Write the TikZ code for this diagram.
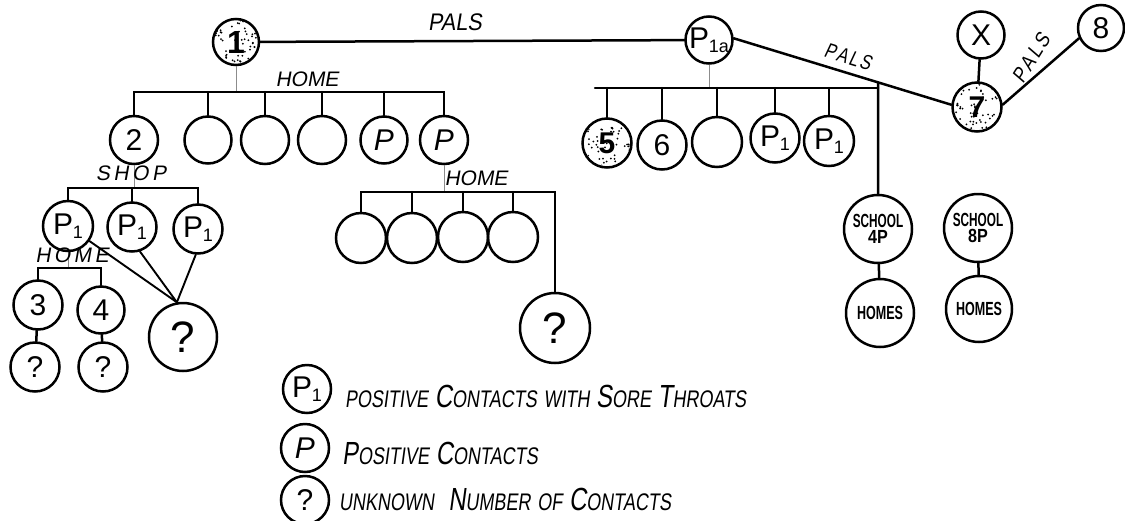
\documentclass[tikz,border=0pt]{standalone}
\usepackage{graphicx}
\usepackage{fontspec}
\setmainfont{Liberation Sans}
\newfontfamily\hand{Liberation Sans}
\newfontfamily\handsl[FakeSlant=0.18]{Liberation Sans}
\usetikzlibrary{calc}

\newcommand\fs[1]{\fontsize{#1}{#1}\selectfont}
\newcommand\nar[2]{\scalebox{#1}[1]{#2}}
% P with a subscript
\newcommand\psub[1]{P\kern-0.5pt\raisebox{-4pt}{\fs{18}#1}}
% small letters of the key lettering
\newcommand\sm[1]{{\fs{24}#1}}
% speckled fill inside a circular node
\newcommand\speckle[2]{%
  \begin{scope}
    \clip (#1) circle[radius=#2pt];
    \foreach \k in {1,...,60}{%
      \fill ($(#1)+({rand*#2},{rand*#2})$) circle[radius=1pt];}
  \end{scope}}

\begin{document}
\begin{tikzpicture}[x=1pt,y=-1pt,
  every node/.style={inner sep=0pt, text=black},
  nd/.style={circle, draw, line width=2.5pt, minimum size=#1pt, font=\hand\fs{30}},
  nd/.default=48,
  link/.style={line width=2.5pt, line cap=round},
  thinlink/.style={line width=1.9pt, line cap=round},
  faint/.style={line width=0.8pt, black!45},
  tag/.style={font=\handsl\fs{21}},
  school/.style={font=\hand\bfseries\fs{19}, align=center},
  keytext/.style={anchor=west, font=\handsl\fs{32}}]

\fill[white] (0,0) rectangle (1125,520);
\useasboundingbox (0,0) rectangle (1125,520);
\pgfmathsetseed{4242}

% ---------- top row ----------
\node[nd=46, font=\hand\bfseries\fs{32}] (n1) at (236,42) {1};
\node[nd=47] (p1a) at (709,40) {\psub{1a}};
\node[font=\handsl\fs{24}] (pals1) at (455,22) {\nar{0.9}{PALS}};
\draw[link] (n1) -- (p1a);

% ---------- home of case 1 ----------
\node[nd=48] (n2) at (134,140) {2};
\node[nd=47] (e1) at (208,140) {};
\node[nd=48] (e2) at (265,140) {};
\node[nd=48] (e3) at (322,140) {};
\node[nd=47] (pA) at (384,140) {\textsl{P}};
\node[nd=48] (pB) at (444,140) {\textsl{P}};
\coordinate (b1) at (0,92);
\node[tag] (home1) at (307,79) {HOME};
\draw[faint] (n1.south) -- (n1.south |- b1);
\draw[link] (n2.north) |- (pB.north |- b1) -- (pB.north);
\foreach \c in {e1,e2,e3,pA} \draw[link] (\c.north |- b1) -- (\c.north);

% ---------- shop of case 2 ----------
\node[nd=50] (q1) at (68,226) {\psub{1}};
\node[nd=49] (q2) at (132,227) {\psub{1}};
\node[nd=49] (q3) at (198,229) {\psub{1}};
\coordinate (b2) at (0,188);
\draw[faint] (n2.south) -- (n2.south |- b2);
\node[tag] (shop) at (131,173) {S\,H\,O\,P};
\draw[link] (q1.north) |- (q3.north |- b2) -- (q3.north);
\draw[link] (q2.north |- b2) -- (q2.north);

% ---------- home of the first shop contact ----------
\node[nd=49] (n3) at (38,305) {3};
\node[nd=47] (n4) at (101,310) {4};
\node[nd=49] (u1) at (35,367) {?};
\node[nd=49] (u2) at (103,367) {?};
\node[nd=68, font=\hand\fs{44}] (U1) at (183,337) {?};
\coordinate (b3) at (0,268);
\draw[faint] (q1.south) -- (q1.south |- b3);
\node[tag] (home2) at (72,255) {H\,O\,M\,E};
\draw[link] (n3.north) |- (n4.north |- b3) -- (n4.north);
\draw[link] (n3) -- (u1);
\draw[link] (n4) -- (u2);
\draw[thinlink] (q1) -- (U1.100);
\draw[thinlink] (q2.-72) -- (U1.100);
\draw[thinlink] (q3.-95) -- (U1.100);

% ---------- home of the positive contact ----------
\node[nd=50] (f1) at (361,238) {};
\node[nd=50] (f2) at (412,238) {};
\node[nd=50] (f3) at (463,237) {};
\node[nd=50] (f4) at (513,237) {};
\node[nd=70, font=\hand\fs{44}] (U2) at (555,328) {?};
\coordinate (b4) at (0,192);
\draw[faint] (pB.south) -- (pB.south |- b4);
\node[tag] (home3) at (476,178) {HOME};
\draw[link] (f1.north) |- (U2.north |- b4) -- (U2.north);
\foreach \c in {f2,f3,f4} \draw[link] (\c.north |- b4) -- (\c.north);

% ---------- contacts of case 1a ----------
\node[nd=49, font=\hand\bfseries\fs{30}] (g5) at (607,143) {5};
\node[nd=49] (g6) at (662,145) {6};
\node[nd=50] (g7) at (717,142) {};
\node[nd=49] (g8) at (775,138) {\psub{1}};
\node[nd=50] (g9) at (829,141) {\psub{1}};
\node[nd=68, school] (s4) at (878,229) {\nar{0.62}{SCHOOL}\\[-3pt]\nar{0.85}{4P}};
\node[nd=68, school] (h4) at (880,313) {\nar{0.66}{HOMES}};
\node[nd=68, school] (s8) at (978,228) {\nar{0.62}{SCHOOL}\\[-3pt]\nar{0.85}{8P}};
\node[nd=66, school] (h8) at (979,309) {\nar{0.66}{HOMES}};
\coordinate (b5) at (0,88);
\coordinate (b5l) at (595,88);
\coordinate (b5r) at (s4.north |- b5);
\draw[faint] (p1a.south) -- (p1a.south |- b5);
\draw[link] (b5l) -- (b5r);
\foreach \c in {g5,g6,g7,g8,g9} \draw[link] (\c.north |- b5) -- (\c.north);

% ---------- pals of case 1a ----------
\node[nd=47] (nX) at (981,35) {X};
\node[nd=49, font=\hand\bfseries\fs{30}] (n7) at (977,107) {7};
\node[nd=46] (n8) at (1101,28) {8};
\draw[link] (p1a.4) -- (n7.175);
\coordinate (j) at (intersection of p1a.4--n7.175 and s4.north--b5r);
\draw[link] (j) -- (s4.north);
\node[font=\handsl\fs{21}, rotate=-17] (pals2) at (848,57)
  {\nar{0.78}{P\kern2.5pt A\kern2.5pt L\kern2.5pt S}};
\draw[link] (nX) -- (n7);
\draw[link] (n7.5) -- (n8.205);
\node[font=\handsl\fs{21}, rotate=58] (pals3) at (1031,58)
  {\nar{0.85}{P\kern3pt A\kern3pt L\kern3pt S}};
\draw[link] (s4) -- (h4);
\draw[link] (s8) -- (h8);

% ---------- speckled cases ----------
\speckle{n1}{22}
\speckle{g5}{23}
\speckle{n7}{23}

% ---------- key ----------
\node[nd=48] (L1) at (307,389) {\psub{1}};
\node[nd=48] (L2) at (305,448) {\textsl{P}};
\node[nd=48] (L3) at (305,500) {?};
\node[keytext] (t1) at (345,396)
  {\nar{0.75}{\sm{POSITIVE} C\sm{ONTACTS} \sm{WITH} S\sm{ORE} T\sm{HROATS}}};
\node[keytext] (t2) at (342,453)
  {\nar{0.75}{P\sm{OSITIVE} C\sm{ONTACTS}}};
\node[keytext] (t3) at (339,499)
  {\nar{0.75}{\sm{UNKNOWN}\hspace{10pt} N\sm{UMBER} \sm{OF} C\sm{ONTACTS}}};
\end{tikzpicture}
\end{document}
